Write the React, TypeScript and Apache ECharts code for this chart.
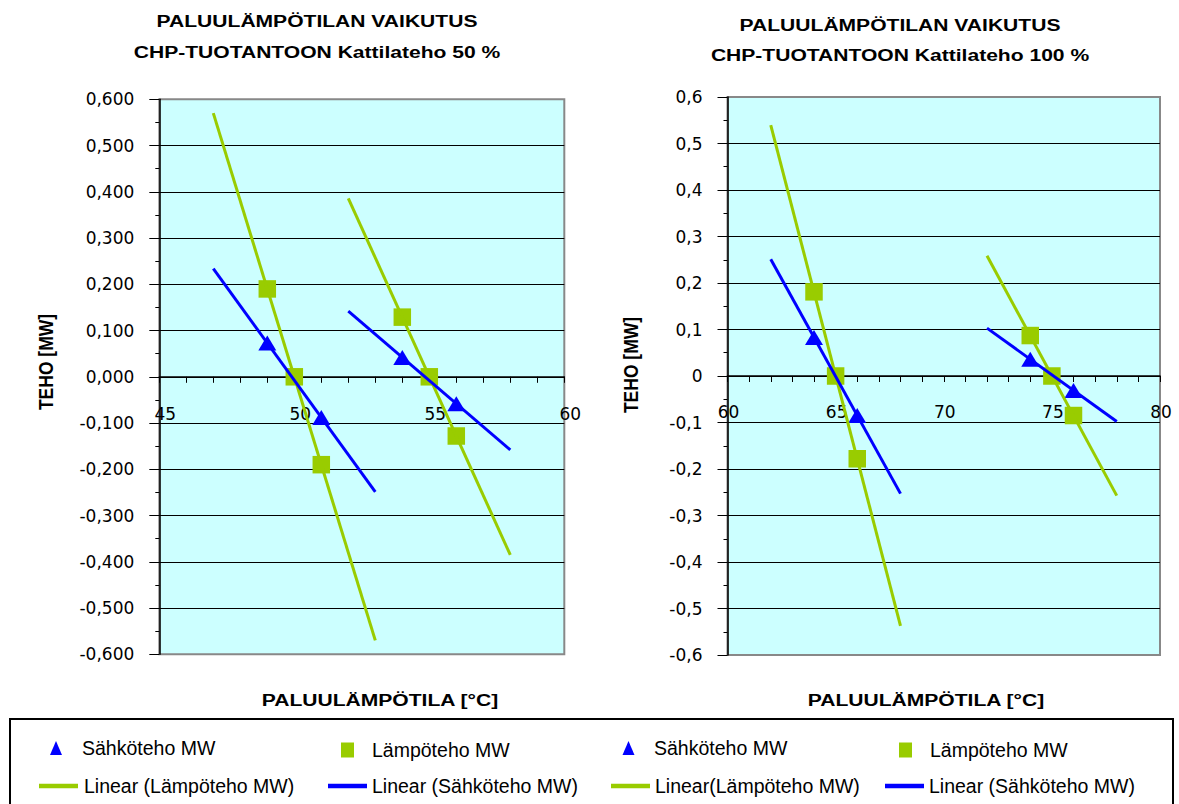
import React, { useEffect, useRef } from "react";
import * as echarts from "echarts";

// ---- Data: Kattilateho 50 % ----
const sahko50aX = [49, 51];
const sahko50aY = [0.073, -0.088];
const sahko50bX = [54, 56];
const sahko50bY = [0.042, -0.058];
const lampo50aX = [49, 50, 51];
const lampo50aY = [0.19, 0.0, -0.19];
const lampo50bX = [54, 55, 56];
const lampo50bY = [0.129, 0.0, -0.128];

// ---- Data: Kattilateho 100 % ----
const sahko100aX = [64, 66];
const sahko100aY = [0.083, -0.085];
const sahko100bX = [74, 76];
const sahko100bY = [0.036, -0.031];
const lampo100aX = [64, 65, 66];
const lampo100aY = [0.181, 0.0, -0.178];
const lampo100bX = [74, 75, 76];
const lampo100bY = [0.087, 0.0, -0.085];

// trendline forecast (forward / backward) in °C
const TREND_EXT = 2;

const title50 = ["PALUULÄMPÖTILAN VAIKUTUS", "CHP-TUOTANTOON Kattilateho 50 %"];
const title100 = ["PALUULÄMPÖTILAN VAIKUTUS", "CHP-TUOTANTOON Kattilateho 100 %"];
const xName = "PALUULÄMPÖTILA [°C]";
const yName = "TEHO [MW]";

const GREEN = "#99CC00";
const BLUE = "#0000FF";

const zip = (xs: number[], ys: number[]) => xs.map((x, i) => [x, ys[i]]);

function trend(xs: number[], ys: number[]) {
  const n = xs.length;
  const mx = xs.reduce((a, b) => a + b, 0) / n;
  const my = ys.reduce((a, b) => a + b, 0) / n;
  let sxy = 0;
  let sxx = 0;
  for (let i = 0; i < n; i++) {
    sxy += (xs[i] - mx) * (ys[i] - my);
    sxx += (xs[i] - mx) * (xs[i] - mx);
  }
  const k = sxy / sxx;
  const b = my - k * mx;
  const x0 = Math.min(...xs) - TREND_EXT;
  const x1 = Math.max(...xs) + TREND_EXT;
  return [
    [x0, b + k * x0],
    [x1, b + k * x1],
  ];
}

const FONT = '"Liberation Sans", Arial, sans-serif';
const TICKFONT = '"DejaVu Sans", sans-serif';

const G0 = { left: 159.3, top: 99.3, width: 405, height: 555 };
const G1 = { left: 727.5, top: 97, width: 432.5, height: 558 };

export default function App() {
  const ref = useRef<HTMLDivElement>(null);

  useEffect(() => {
    document.body.style.margin = "0";
    if (!ref.current) return;
    const chart = echarts.init(ref.current, undefined, { renderer: "svg" });

    const yAxisBase = (fmt: (v: number) => string, padBottom: number) => ({
      type: "value",
      min: -0.6,
      max: 0.6,
      interval: 0.1,
      axisLine: { show: true, onZero: false, lineStyle: { color: "#000", width: 1.5 } },
      axisTick: { show: true, inside: false, length: 10, lineStyle: { color: "#000", width: 1 } },
      minorTick: { show: true, splitNumber: 2, length: 4, lineStyle: { color: "#000", width: 1 } },
      splitLine: { show: true, showMinLine: false, showMaxLine: false, lineStyle: { color: "#000", width: 1 } },
      axisLabel: {
        color: "#000",
        fontFamily: TICKFONT,
        fontSize: 17,
        margin: 25,
        padding: [0, 0, padBottom, 0],
        formatter: fmt,
      },
    });

    // the x axis crosses the y axis at 0 (middle of the grid)
    const xAxisBase = (min: number, max: number, gridH: number, margin: number, padLeft: number) => ({
      type: "value",
      min,
      max,
      interval: 5,
      position: "bottom",
      offset: -gridH / 2,
      axisLine: { show: true, onZero: false, lineStyle: { color: "#000", width: 1.5 } },
      axisTick: { show: true, inside: false, length: 6, lineStyle: { color: "#000", width: 1 } },
      minorTick: { show: true, splitNumber: 5, length: 6, lineStyle: { color: "#000", width: 1 } },
      splitLine: { show: false },
      axisLabel: {
        color: "#000",
        fontFamily: TICKFONT,
        fontSize: 17,
        margin,
        padding: [0, 0, 0, padLeft],
        showMinLabel: true,
        showMaxLabel: true,
      },
    });

    const fmt50 = (v: number) => {
      const r = Math.abs(v) < 1e-9 ? 0 : v;
      return r.toFixed(3).replace(".", ",");
    };
    const fmt100 = (v: number) => {
      if (Math.abs(v) < 1e-9) return "0";
      return v.toFixed(1).replace(".", ",");
    };

    const scatter = (name: string, data: number[][], idx: number, sym: string, size: any, color: string) => ({
      type: "scatter",
      name,
      xAxisIndex: idx,
      yAxisIndex: idx,
      data,
      symbol: sym,
      symbolSize: size,
      itemStyle: { color, opacity: 1 },
      z: 2,
      silent: true,
    });
    const line = (name: string, data: number[][], idx: number, color: string) => ({
      type: "line",
      name,
      xAxisIndex: idx,
      yAxisIndex: idx,
      data,
      symbol: "none",
      showSymbol: false,
      lineStyle: { color, width: 3 },
      itemStyle: { color },
      z: 3,
      silent: true,
    });

    const legendItem = (
      name: string,
      icon: string,
      left: number,
      top: number,
      w: number,
      h: number,
      pad: number
    ) => ({
      show: true,
      data: [{ name, icon }],
      left,
      top,
      padding: 0,
      itemWidth: w,
      itemHeight: h,
      selectedMode: false,
      textStyle: { color: "#000", fontFamily: FONT, fontSize: 19.5, padding: [0, 0, 0, pad] },
    });

    const titleText = (text: string, x: number, y: number) => ({
      type: "text",
      x,
      y,
      scaleX: 1.24,
      style: {
        text,
        fill: "#000",
        fontFamily: FONT,
        fontWeight: "bold",
        fontSize: 17,
        align: "center",
        verticalAlign: "middle",
        textAlign: "center",
        textVerticalAlign: "middle",
      },
    });
    const yNameText = (x: number, y: number) => ({
      type: "text",
      x,
      y,
      rotation: Math.PI / 2,
      scaleY: 1.2,
      style: {
        text: yName,
        fill: "#000",
        fontFamily: FONT,
        fontWeight: "bold",
        fontSize: 17.5,
        align: "center",
        verticalAlign: "middle",
        textAlign: "center",
        textVerticalAlign: "middle",
      },
    });

    chart.setOption({
      animation: false,
      backgroundColor: "#fff",
      grid: [
        {
          ...G0,
          show: true,
          backgroundColor: "#CCFFFF",
          borderColor: "#888",
          borderWidth: 2,
          containLabel: false,
        },
        {
          ...G1,
          show: true,
          backgroundColor: "#CCFFFF",
          borderColor: "#888",
          borderWidth: 2,
          containLabel: false,
        },
      ],
      xAxis: [
        { ...xAxisBase(45, 60, G0.height, 29, 12), gridIndex: 0 },
        { ...xAxisBase(60, 80, G1.height, 27, 2), gridIndex: 1 },
      ],
      yAxis: [
        { ...yAxisBase(fmt50, 8), gridIndex: 0 },
        { ...yAxisBase(fmt100, 0), gridIndex: 1 },
      ],
      legend: [
        legendItem("Sähköteho MW", "triangle", 50, 738, 12, 14, 15),
        legendItem("Lämpöteho MW", "rect", 341, 740, 13, 15, 13),
        legendItem("Sähköteho MW", "triangle", 622.5, 738, 12, 14, 14.5),
        legendItem("Lämpöteho MW", "rect", 899, 740, 13, 15, 13),
        legendItem("Linear (Lämpöteho MW)", "rect", 39, 776, 39, 4.5, 1),
        legendItem("Linear (Sähköteho MW)", "rect", 328, 776, 39, 4.5, 0),
        legendItem("Linear(Lämpöteho MW)", "rect", 611, 776, 39, 4.5, 0),
        legendItem("Linear (Sähköteho MW)", "rect", 885, 776, 39, 4.5, 0),
      ],
      graphic: [
        titleText(title50[0], 317, 21),
        titleText(title50[1], 317, 52),
        titleText(title100[0], 900, 25),
        titleText(title100[1], 900, 55),
        titleText(xName, 380, 700),
        titleText(xName, 926, 700),
        yNameText(46, 362),
        yNameText(631, 365),
        {
          type: "rect",
          shape: { x: 10, y: 719, width: 1163, height: 95 },
          style: { fill: "none", stroke: "#000", lineWidth: 2 },
          silent: true,
        },
      ],
      series: [
        scatter("Sähköteho MW", [...zip(sahko50aX, sahko50aY), ...zip(sahko50bX, sahko50bY)], 0, "triangle", [18, 15], BLUE),
        scatter("Lämpöteho MW", [...zip(lampo50aX, lampo50aY), ...zip(lampo50bX, lampo50bY)], 0, "rect", 17.5, GREEN),
        line("Linear (Lämpöteho MW)", trend(lampo50aX, lampo50aY), 0, GREEN),
        line("Linear (Lämpöteho MW)", trend(lampo50bX, lampo50bY), 0, GREEN),
        line("Linear (Sähköteho MW)", trend(sahko50aX, sahko50aY), 0, BLUE),
        line("Linear (Sähköteho MW)", trend(sahko50bX, sahko50bY), 0, BLUE),

        scatter("Sähköteho MW", [...zip(sahko100aX, sahko100aY), ...zip(sahko100bX, sahko100bY)], 1, "triangle", [18, 15], BLUE),
        scatter("Lämpöteho MW", [...zip(lampo100aX, lampo100aY), ...zip(lampo100bX, lampo100bY)], 1, "rect", 17.5, GREEN),
        line("Linear(Lämpöteho MW)", trend(lampo100aX, lampo100aY), 1, GREEN),
        line("Linear(Lämpöteho MW)", trend(lampo100bX, lampo100bY), 1, GREEN),
        line("Linear (Sähköteho MW)", trend(sahko100aX, sahko100aY), 1, BLUE),
        line("Linear (Sähköteho MW)", trend(sahko100bX, sahko100bY), 1, BLUE),
      ],
    });

    return () => {
      chart.dispose();
    };
  }, []);

  return <div ref={ref} style={{ width: 1179, height: 804 }} />;
}
